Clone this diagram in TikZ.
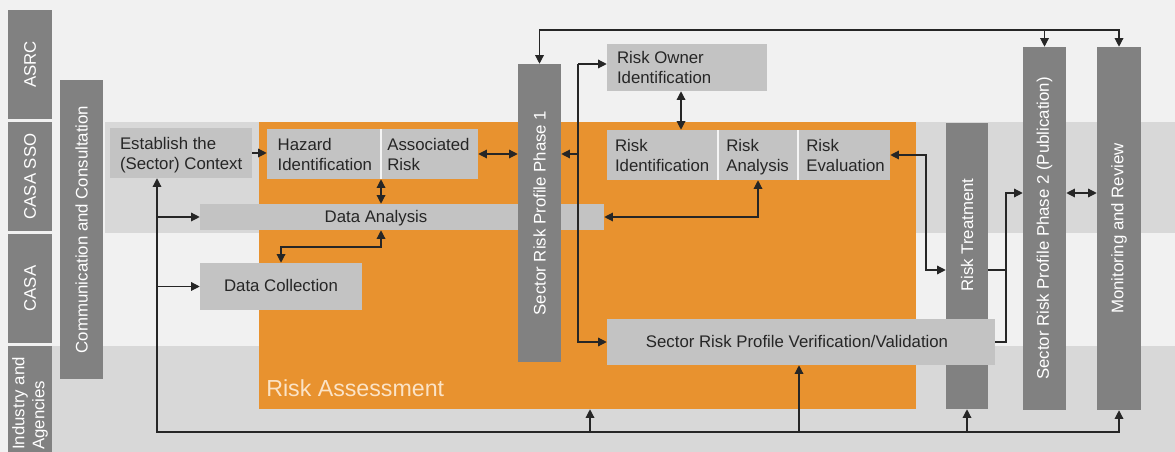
\documentclass[tikz,border=0pt]{standalone}
\usepackage{fontspec}
\setmainfont{Liberation Sans}
\usetikzlibrary{fit,arrows.meta}

\definecolor{orangeRA}{HTML}{E8922F}
\definecolor{lightbox}{HTML}{C3C3C3}
\definecolor{darkbox}{HTML}{818181}
\definecolor{bandgray}{HTML}{D8D8D8}
\definecolor{bggray}{HTML}{F1F1F1}
\definecolor{divider}{HTML}{F4F4F4}
\definecolor{ink}{HTML}{262626}
\definecolor{cream}{HTML}{FBE3C6}

\begin{document}
\begin{tikzpicture}[x=0.75pt,y=-0.75pt,
  every node/.style={font=\fontsize{12.6}{15}\selectfont},
  panel/.style={fill=lightbox, draw=none, inner sep=0pt},
  pillar/.style={fill=darkbox, draw=none, inner sep=0pt},
  boxtext/.style={text=ink, align=left, anchor=west, inner sep=0pt, yshift=-1.8pt},
  linetext/.style={text=ink, inner sep=0pt, yshift=-1pt},
  pillartext/.style={text=white, rotate=90, inner sep=0pt},
  conn/.style={draw=ink, line width=0.9pt},
  onearrow/.style={-{Triangle[length=6.5pt,width=6.5pt]}},
  twoarrow/.style={{Triangle[length=6.5pt,width=6.5pt]}-{Triangle[length=6.5pt,width=6.5pt]}}
]
% canvas and swim-lane bands
\fill[bggray] (0,0) rectangle (1175,452);
\useasboundingbox (0,0) rectangle (1175,452);
\fill[bandgray] (105,122) rectangle (1175,233);
\fill[bandgray] (52,346) rectangle (1175,452);

% lane headers
\node[pillar, fit={(8,10) (52,119)}] (lASRC) {};
\node[pillartext] (lASRCt) at (lASRC) {ASRC};
\node[pillar, fit={(8,122) (52,231)}] (lSSO) {};
\node[pillartext] (lSSOt) at (lSSO) {CASA SSO};
\node[pillar, fit={(8,234) (52,343)}] (lCASA) {};
\node[pillartext] (lCASAt) at (lCASA) {CASA};
\node[pillar, fit={(8,346) (52,452)}] (lIND) {};
\node[pillartext, anchor=west, align=left] (lINDt) at (30,450) {Industry and\\Agencies};

% communication column
\node[pillar, fit={(60,80) (103,379)}] (comm) {};
\node[pillartext] (commt) at (comm) {Communication and Consultation};

% risk assessment area
\node[fill=orangeRA, inner sep=0pt, fit={(259,122) (916,409)}] (ra) {};
\node[anchor=base west, text=cream, inner sep=0pt, font=\fontsize{17.4}{19}\selectfont] (rat) at (266,397) {Risk Assessment};

% context
\node[panel, fit={(110,128) (252,178)}] (est) {};
\node[boxtext] (estt) at ([xshift=7.5pt]est.west) {Establish the\strut\\(Sector) Context\strut};

% hazard / associated risk
\node[fill=divider, inner sep=0pt, fit={(267,129) (478,179)}] (hazgrp) {};
\node[panel, fit={(267,129) (380,179)}] (haz) {};
\node[boxtext] (hazt) at ([xshift=8pt]haz.west) {Hazard\strut\\Identification\strut};
\node[panel, fit={(382,129) (478,179)}] (assoc) {};
\node[boxtext] (assoct) at ([xshift=4pt]assoc.west) {Associated\strut\\Risk\strut};

% data boxes
\node[panel, fit={(200,204) (604,230)}] (da) {};
\node[linetext] (dat) at (376,217) {Data Analysis\strut};
\node[panel, fit={(200,263) (362,310)}] (dc) {};
\node[linetext] (dct) at (dc) {Data Collection\strut};

% phase 1
\node[pillar, fit={(518,64) (561,362)}] (p1) {};
\node[pillartext] (p1t) at (p1) {Sector Risk Profile Phase 1};

% risk owner
\node[panel, fit={(607,44) (767,91)}] (rown) {};
\node[boxtext] (rownt) at ([xshift=7.5pt]rown.west) {Risk Owner\strut\\Identification\strut};

% identification / analysis / evaluation
\node[fill=divider, inner sep=0pt, fit={(607,130) (890,180)}] (rgrp) {};
\node[panel, fit={(607,130) (717,180)}] (rid) {};
\node[boxtext] (ridt) at ([xshift=6pt]rid.west) {Risk\strut\\Identification\strut};
\node[panel, fit={(719,130) (797,180)}] (ran) {};
\node[boxtext] (rant) at ([xshift=5.5pt]ran.west) {Risk\strut\\Analysis\strut};
\node[panel, fit={(799,130) (890,180)}] (rev) {};
\node[boxtext] (revt) at ([xshift=5.5pt]rev.west) {Risk\strut\\Evaluation\strut};

% treatment and later stages
\node[pillar, fit={(946,123) (988,409)}] (rt) {};
\node[pillartext] (rtt) at (967,235) {Risk Treatment};
\node[panel, fit={(607,319) (995,365)}] (ver) {};
\node[linetext] (vert) at (797,342) {Sector Risk Profile Verification/Validation\strut};
\node[pillar, fit={(1023,47) (1066,410)}] (ph2) {};
\node[pillartext] (ph2t) at (ph2) {Sector Risk Profile Phase 2 (Publication)};
\node[pillar, fit={(1097,47) (1141,410)}] (mon) {};
\node[pillartext] (mont) at (mon) {Monitoring and Review};

% helper coordinates for routed connectors
\coordinate (topbus) at (1119,30);
\coordinate (busN) at (578,64);
\coordinate (xro) at (681,0);
\coordinate (xdiv) at (381,0);
\coordinate (dcx) at (281,247);
\coordinate (rtx) at (926,270);
\coordinate (jx) at (1006,193);
\coordinate (botL) at (157,432);
\coordinate (xra) at (590,0);
\coordinate (xver) at (799,0);

% top feedback bus
\draw[conn, twoarrow] (p1.north) |- (topbus) -- (mon.north);
\draw[conn, onearrow] (ph2.north |- topbus) -- (ph2.north);

% assessment flow
\draw[conn, onearrow] (est.east) -- (haz.west |- est.east);
\draw[conn, twoarrow] (assoc.east) -- (p1.west |- assoc.east);
\draw[conn, onearrow] (busN) -- (busN -| rown.west);
\draw[conn, onearrow] (busN) |- (ver.west);
\draw[conn, onearrow] (busN |- assoc.east) -- (p1.east |- assoc.east);
\draw[conn, twoarrow] (rown.south -| xro) -- (rid.north -| xro);
\draw[conn, twoarrow] (hazgrp.south -| xdiv) -- (da.north -| xdiv);
\draw[conn, twoarrow] (da.south -| xdiv) |- (dcx) -- (dc.north -| dcx);
\draw[conn, twoarrow] (ran.south) |- (da.east);
\draw[conn, twoarrow] (rev.east) -| (rtx) -- (rtx -| rt.west);

% publication and review
\draw[conn, onearrow] (ver.east) -| (jx) -- (jx -| ph2.west);
\draw[conn] (rt.east |- rtx) -- (jx |- rtx);
\draw[conn, twoarrow] (ph2.east |- jx) -- (mon.west |- jx);

% bottom consultation bus
\draw[conn, twoarrow] (est.south -| botL) -- (botL) -| (mon.south);
\draw[conn, onearrow] (botL -| xra) -- (ra.south -| xra);
\draw[conn, onearrow] (botL -| xver) -- (ver.south -| xver);
\draw[conn, onearrow] (botL -| rt.south) -- (rt.south);
\draw[conn, onearrow] (botL |- da.west) -- (da.west);
\draw[conn, onearrow] (botL |- dc.west) -- (dc.west);
\end{tikzpicture}
\end{document}
